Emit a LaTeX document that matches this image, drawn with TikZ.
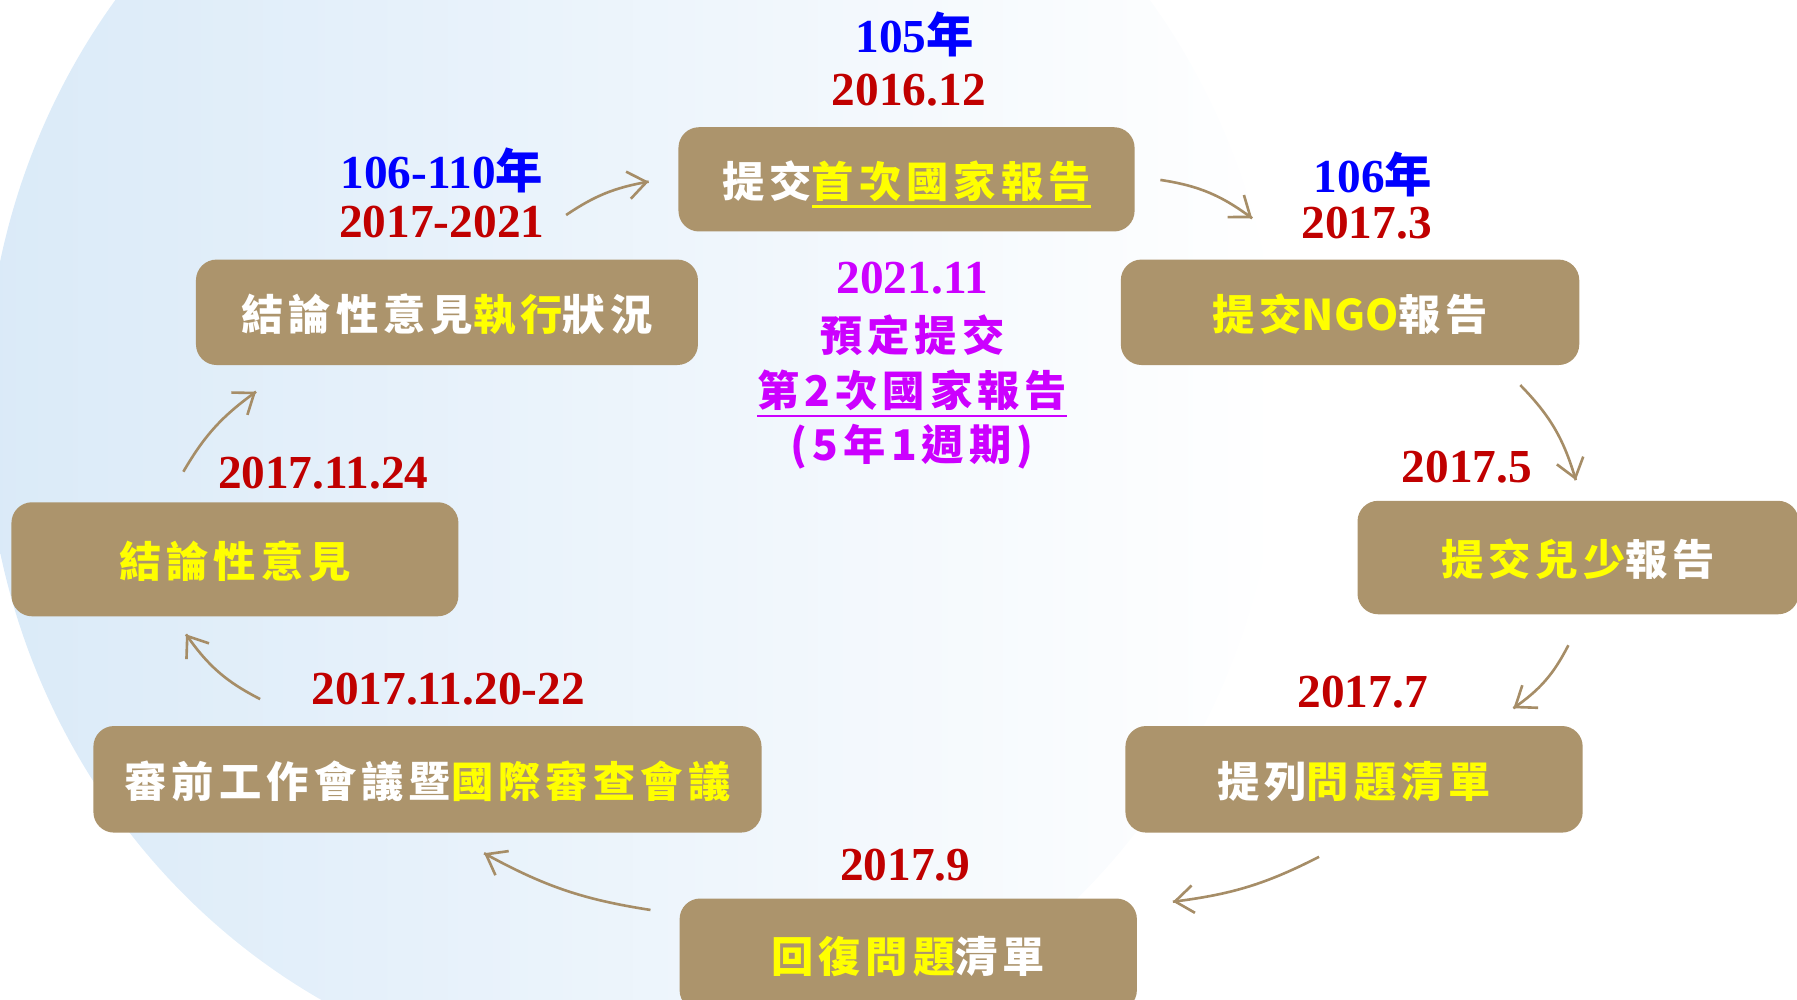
\documentclass[tikz,border=0pt]{standalone}
\usepackage{fontspec}
\setmainfont{Liberation Serif}
\newfontfamily\cjk{Noto Sans CJK TC}[LetterSpace=12]
\newfontfamily\cjkyear{Noto Sans CJK TC}
\usetikzlibrary{positioning, arrows.meta, decorations.markings}

\definecolor{boxtan}{RGB}{172,148,108}
\definecolor{arrowtan}{RGB}{166,141,103}
\definecolor{bgblue}{RGB}{218,234,248}
\definecolor{yearblue}{RGB}{0,0,255}
\definecolor{datered}{RGB}{192,0,0}
\definecolor{planpurple}{RGB}{204,0,255}
\definecolor{keyyellow}{RGB}{255,255,0}

\newcommand{\yel}[1]{{\color{keyyellow}#1}}
\newcommand{\nian}{{\cjkyear\bfseries 年}}
\newcommand{\uln}[1]{\sbox0{#1}\rlap{\rule[-1.8mm]{\wd0}{1.3pt}}\usebox0}

\tikzstyle{Arrow} = [
arrowtan, line width=1.3pt,
decoration={
markings,
mark=at position 0.9999 with {
\arrow[arrowtan, line width=1.3pt]{Straight Barb[length=3.2mm, width=4.8mm]}}},
preaction = {decorate}]
\tikzstyle{Stage} = [
fill=boxtan, rounded corners=3.6mm, inner sep=0pt,
text height=7.3mm, text depth=0.9mm,
text=white, font=\fontsize{21pt}{25pt}\selectfont\cjk\bfseries]
\tikzstyle{Year} = [
text=yearblue, inner sep=0pt, font=\fontsize{23.5pt}{28pt}\selectfont\bfseries]
\tikzstyle{Date} = [
text=datered, inner sep=0pt, anchor=base, font=\fontsize{23.5pt}{28pt}\selectfont\bfseries]
\tikzstyle{Plan} = [
text=planpurple, inner sep=0pt, anchor=base, font=\fontsize{21pt}{25pt}\selectfont\cjk\bfseries]

\begin{document}
\begin{tikzpicture}[x=0.2mm, y=-0.2mm]
    \useasboundingbox (0,0) rectangle (1568,872);
    \begin{scope}
        \clip (0,0) rectangle (1568,872);
        \shade[left color=bgblue, right color=white] (552,355) ellipse [x radius=113mm, y radius=118mm];
    \end{scope}

    \node [Stage, minimum width=79.6mm, minimum height=18.2mm] (1) at (791,156.5) {提交\yel{\uln{首次國家報告}}};
    \node [Stage, minimum width=80mm, minimum height=18.4mm] (2) at (1178,272.5) {\yel{提交{\cjkyear NGO}}報告};
    \node [Stage, minimum width=77mm, minimum height=19.8mm] (3) at (1377,486.5) {\yel{提交兒少}報告};
    \node [Stage, minimum width=79.8mm, minimum height=18.6mm] (4) at (1181.5,680) {提列\yel{問題清單}};
    \node [Stage, minimum width=79.8mm, minimum height=19.6mm] (5) at (792.5,833) {\yel{回復問題}清單};
    \node [Stage, minimum width=116.6mm, minimum height=18.6mm] (6) at (373,680) {審前工作會議暨\yel{國際審查會議}};
    \node [Stage, minimum width=78mm, minimum height=19.9mm] (7) at (205,488) {\yel{結論性意見}};
    \node [Stage, minimum width=87.6mm, minimum height=18.4mm] (8) at (390,272.5) {結論性意見\yel{執行}狀況};

    \node [Date] (d1) at (793,92) {2016.12};
    \node [Year, above =2.8mm of d1, xshift=1mm] (y1) {105\nian};
    \node [Date] (d2) at (1192.5,208) {2017.3};
    \node [Year, above =1.6mm of d2, xshift=1.1mm] (y2) {106\nian};
    \node [Date] (d3) at (1280,421) {2017.5};
    \node [Date] (d4) at (1189,617) {2017.7};
    \node [Date] (d5) at (790,768) {2017.9};
    \node [Date] (d6) at (391,615) {2017.11.20-22};
    \node [Date] (d7) at (282,426) {2017.11.24};
    \node [Date] (d8) at (385.5,207) {2017-2021};
    \node [Year, above =2mm of d8] (y8) {106-110\nian};

    \node [Date, text=planpurple] (c1) at (796,256) {2021.11};
    \node [Plan] (c2) at (796,307) {預定提交};
    \node [Plan] (c3) at (796,355) {\uln{第2次國家報告}};
    \node [Plan] (c4) at (796,402) {(5年1週期)};

    \coordinate (a1) at (1012.5,157);
    \coordinate (b1) at (1092.6,190.5);
    \coordinate (a2) at (1326.5,336);
    \coordinate (b2) at (1375,419);
    \coordinate (a3) at (1368.5,563);
    \coordinate (b3) at (1320.5,618);
    \coordinate (a4) at (1151,747.6);
    \coordinate (b4) at (1023.4,786.8);
    \coordinate (a5) at (567.6,794);
    \coordinate (b5) at (422.4,744.5);
    \coordinate (a6) at (227,610);
    \coordinate (b6) at (162.3,553.5);
    \coordinate (a7) at (160,411.6);
    \coordinate (b7) at (223.4,341.8);
    \coordinate (a8) at (494,187.6);
    \coordinate (b8) at (566,158.5);

    \draw[Arrow] (a1) to [bend left=14] (b1);
    \draw[Arrow] (a2) to [bend left=14] (b2);
    \draw[Arrow] (a3) to [bend left=14] (b3);
    \draw[Arrow] (a4) to [bend left=10] (b4);
    \draw[Arrow] (a5) to [bend left=10] (b5);
    \draw[Arrow] (a6) to [bend left=14] (b6);
    \draw[Arrow] (a7) to [bend left=12] (b7);
    \draw[Arrow] (a8) to [bend left=12] (b8);
\end{tikzpicture}
\end{document}
